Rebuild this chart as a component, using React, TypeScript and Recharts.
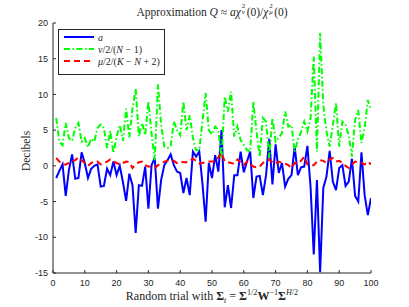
import React from 'react';
import { LineChart, Line, XAxis, YAxis } from 'recharts';

const aValues = [
  -1.7, -0.7, 0.2, -4.2, -0.6, 1.6, -1.8, -1.7, 1.9, 0.4,
  -1.7, -0.4, 0.0, 0.2, -2.9, -2.8, -0.4, -1.3, 0.6, -1.3,
  0.0, -2.3, -4.9, -1.1, -2.7, -9.4, -2.7, -2.8, -0.1, -6.0,
  0.1, 1.1, -6.0, -2.0, 0.1, 0.8, 1.6, 0.1, -0.8, -1.0,
  -3.8, -1.7, -4.1, 2.0, 1.3, 2.0, -2.5, -7.8, 0.4, -1.7,
  1.5, -0.8, 5.0, -5.8, -2.7, -5.9, -1.3, -1.3, 2.0, -0.9,
  0.6, 2.0, -4.5, -1.5, -1.4, -4.1, -1.3, 3.8, -2.6, 3.0,
  -1.0, 0.4, -2.9, -1.8, -1.3, 2.7, -1.3, -0.2, -0.1, 2.8,
  -3.0, -12.4, -2.0, -14.9, -3.1, -1.5, 2.1, -2.2, -3.4, -0.3,
  0.1, -2.8, -2.2, 1.0, -4.2, -5.0, 1.9, -4.1, -6.9, -4.5,
];

const nuValues = [
  6.7, 3.4, 2.9, 6.0, 3.9, 3.5, 5.3, 6.0, 3.4, 3.9,
  2.6, 3.8, 3.4, 5.3, 5.8, 5.3, 2.5, 4.9, 1.8, 4.1,
  5.7, 3.5, 8.0, 4.0, 8.0, 10.8, 4.1, 6.0, 4.3, 9.0,
  4.5, 0.8, 11.4, 5.8, 2.7, 2.5, 2.7, 6.2, 5.0, 4.3,
  9.0, 5.0, 7.1, 3.9, 2.2, 2.2, 6.2, 10.2, 5.0, 4.4,
  5.5, 5.0, 1.0, 9.7, 7.6, 10.4, 4.1, 5.5, 3.6, 2.9,
  2.2, 2.0, 9.0, 4.8, 1.3, 6.7, 6.2, 1.1, 6.7, 3.4,
  3.9, 4.6, 7.6, 5.5, 5.7, 2.0, 3.6, 4.8, 6.2, 4.8,
  6.7, 15.3, 2.0, 18.6, 8.5, 4.8, 2.7, 5.7, 8.8, 2.7,
  6.2, 5.7, 4.3, 1.3, 6.4, 7.8, 3.2, 5.3, 9.2, 7.8,
];

const muValues = [
  1.1, 0.6, 0.2, 0.2, 0.4, 0.6, 0.8, 1.2, 0.8, 0.4,
  0.0, 0.4, 0.6, 0.6, 0.2, 0.4, 0.6, 0.9, 0.6, 0.4,
  0.2, 0.4, 0.6, 0.5, -0.3, 0.2, 0.5, 0.6, 0.1, -0.1,
  -0.1, -0.3, 0.1, 0.3, 0.6, 0.7, 0.7, 0.7, 0.4, 0.6,
  0.5, 0.5, 0.7, 1.0, 0.7, 0.3, 0.4, 0.5, 0.6, 0.6,
  0.6, 1.2, 1.8, 0.6, 0.5, 0.4, 0.3, 0.9, 0.5, 0.1,
  0.6, 0.3, -0.1, -0.2, -0.1, 0.4, 0.7, 0.9, 0.5, 0.3,
  0.6, 0.4, 0.3, 0.1, -0.3, 0.4, 0.3, 0.7, 1.3, 0.2,
  0.1, 0.1, 0.6, 0.8, 0.7, 0.4, 0.9, 1.1, 0.6, 0.7,
  0.4, 0.0, -0.3, 0.2, 0.6, 0.5, 0.4, 0.2, 0.6, 0.2,
];

const xTicks = [0, 10, 20, 30, 40, 50, 60, 70, 80, 90, 100];
const yTicks = [-15, -10, -5, 0, 5, 10, 15, 20];

const data = aValues.map((a, i) => ({
  trial: i + 1,
  a,
  nu: nuValues[i],
  mu: muValues[i],
}));

const AX = '#262626';
const BLUE = '#0000ff';
const GREEN = '#00ff00';
const RED = '#ff0000';
const GREEN_DASH = '6 2.5 1.5 2.5';
const RED_DASH = '6 4';

const serif = '"Liberation Serif", "Times New Roman", serif';
const sans = '"Liberation Sans", Arial, sans-serif';
const tickStyle = { fontFamily: sans, fontSize: 9, fill: AX };

const SupSub = ({ sup, sub }: { sup: React.ReactNode; sub: React.ReactNode }) => (
  <span
    style={{
      position: 'relative',
      display: 'inline-block',
      width: '0.42em',
      height: '1em',
      marginLeft: 1,
    }}
  >
    <span style={{ position: 'absolute', left: 0, top: '-0.12em', fontSize: '0.6em', lineHeight: 1 }}>{sup}</span>
    <span style={{ position: 'absolute', left: 0, top: '0.7em', fontSize: '0.6em', lineHeight: 1, fontStyle: 'italic' }}>
      {sub}
    </span>
  </span>
);

const LegendRow = ({ color, dash, label }: { color: string; dash?: string; label: React.ReactNode }) => (
  <div style={{ display: 'flex', alignItems: 'center', height: 12 }}>
    <svg width={30} height={6} style={{ marginLeft: 5, marginRight: 4 }}>
      <line x1={0} y1={3} x2={30} y2={3} stroke={color} strokeWidth={2} strokeDasharray={dash} />
    </svg>
    <span style={{ fontFamily: serif, fontSize: 10, color: AX, whiteSpace: 'nowrap' }}>{label}</span>
  </div>
);

export default function App() {
  return (
    <div style={{ position: 'absolute', left: 0, top: 0, width: 409, height: 307, background: '#fff' }}>
      <LineChart
        width={409}
        height={307}
        data={data}
        margin={{ top: 23, right: 38, bottom: 9, left: 13 }}
      >
        <XAxis
          xAxisId="bottom"
          type="number"
          dataKey="trial"
          domain={[0, 100]}
          ticks={xTicks}
          interval={0}
          height={25}
          tickSize={-3}
          tickMargin={10}
          stroke={AX}
          tick={tickStyle}
          allowDataOverflow
        />
        <XAxis
          xAxisId="top"
          orientation="top"
          type="number"
          dataKey="trial"
          domain={[0, 100]}
          ticks={xTicks}
          interval={0}
          height={0}
          tickSize={-3}
          tick={false}
          stroke={AX}
          allowDataOverflow
        />
        <YAxis
          yAxisId="left"
          type="number"
          domain={[-15, 20]}
          ticks={yTicks}
          interval={0}
          width={40}
          tickSize={-3}
          tickMargin={8}
          stroke={AX}
          tick={tickStyle}
          allowDataOverflow
        />
        <YAxis
          yAxisId="right"
          orientation="right"
          type="number"
          domain={[-15, 20]}
          ticks={yTicks}
          interval={0}
          width={0}
          tickSize={-3}
          tick={false}
          stroke={AX}
          allowDataOverflow
        />
        <Line
          xAxisId="bottom"
          yAxisId="left"
          type="linear"
          dataKey="a"
          stroke={BLUE}
          strokeWidth={2}
          dot={false}
          isAnimationActive={false}
        />
        <Line
          xAxisId="bottom"
          yAxisId="left"
          type="linear"
          dataKey="nu"
          stroke={GREEN}
          strokeWidth={2}
          strokeDasharray={GREEN_DASH}
          dot={false}
          isAnimationActive={false}
        />
        <Line
          xAxisId="bottom"
          yAxisId="left"
          type="linear"
          dataKey="mu"
          stroke={RED}
          strokeWidth={2}
          strokeDasharray={RED_DASH}
          dot={false}
          isAnimationActive={false}
        />
      </LineChart>

      {/* Title */}
      <div
        style={{
          position: 'absolute',
          left: 0,
          top: 4,
          width: 424,
          textAlign: 'center',
          fontFamily: serif,
          fontSize: 11.5,
          color: AX,
          whiteSpace: 'nowrap',
          lineHeight: '14px',
        }}
      >
        Approximation <i>Q</i> ≈ <i>aχ</i>
        <SupSub sup="2" sub="ν" />(0)/<i>χ</i>
        <SupSub sup="2" sub="μ" />(0)
      </div>

      {/* Y label */}
      <div
        style={{
          position: 'absolute',
          left: 26,
          top: 151,
          transform: 'translate(-50%, -50%) rotate(-90deg)',
          fontFamily: serif,
          fontSize: 11.5,
          color: AX,
          whiteSpace: 'nowrap',
        }}
      >
        Decibels
      </div>

      {/* X label */}
      <div
        style={{
          position: 'absolute',
          left: 0,
          top: 288,
          width: 424,
          textAlign: 'center',
          fontFamily: serif,
          fontSize: 12,
          color: AX,
          whiteSpace: 'nowrap',
        }}
      >
        Random trial with <b>Σ</b>
        <sub style={{ fontSize: '0.68em', fontStyle: 'italic' }}>t</sub> = <b>Σ</b>
        <sup style={{ fontSize: '0.68em' }}>1/2</sup>
        <b>W</b>
        <sup style={{ fontSize: '0.68em' }}>−1</sup>
        <b>Σ</b>
        <sup style={{ fontSize: '0.68em' }}>
          <i>H</i>/2
        </sup>
      </div>

      {/* Legend */}
      <div
        style={{
          position: 'absolute',
          left: 58,
          top: 29,
          width: 107,
          height: 46,
          border: `1px solid ${AX}`,
          background: '#fff',
          boxSizing: 'border-box',
          paddingTop: 1,
        }}
      >
        <LegendRow color={BLUE} label={<i>a</i>} />
        <LegendRow color={GREEN} dash={GREEN_DASH} label={<span><i>ν</i>/2/(<i>N</i> − 1)</span>} />
        <LegendRow color={RED} dash={RED_DASH} label={<span><i>μ</i>/2/(<i>K</i> − <i>N</i> + 2)</span>} />
      </div>
    </div>
  );
}
